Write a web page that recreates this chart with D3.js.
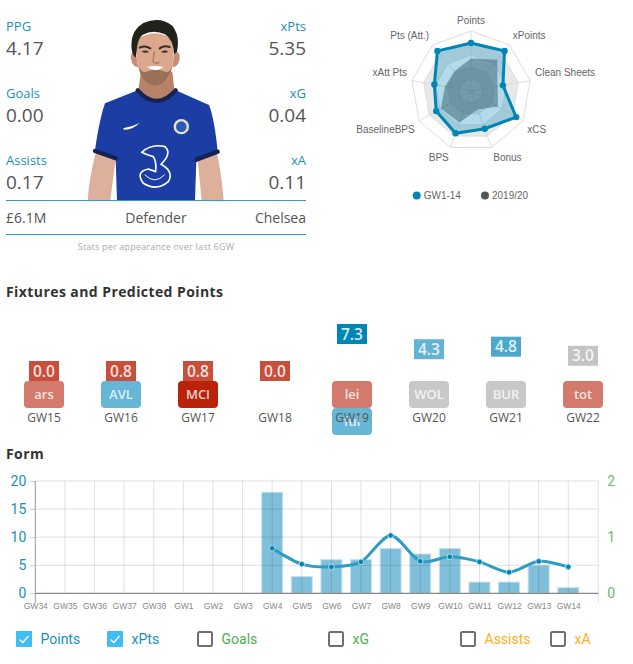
<!DOCTYPE html>
<html>
<head>
<meta charset="utf-8">
<script src="https://cdnjs.cloudflare.com/ajax/libs/d3/7.8.5/d3.min.js"></script>
<style>
  html, body { margin: 0; padding: 0; background: #fff; }
  svg { display: block; }
  text { font-family: "Open Sans", sans-serif; }
</style>
</head>
<body>
<div id="chart"></div>
<script>
const width = 633;
const height = 664;

// Stats block
const leftStats = [["PPG", "4.17"], ["Goals", "0.00"], ["Assists", "0.17"]];
const rightStats = [["xPts", "5.35"], ["xG", "0.04"], ["xA", "0.11"]];
const infoRow = ["£6.1M", "Defender", "Chelsea"];

// Radar
const radarAxes = ["Points", "xPoints", "Clean Sheets", "xCS", "Bonus", "BPS", "BaselineBPS", "xAtt Pts", "Pts (Att.)"];
const radarCurrent = [80, 87, 54, 87, 67, 75, 67, 62, 87];
const radarLast = [54, 68, 45, 52, 33, 56, 58, 44, 43];
const radarLevels = [100, 80, 60, 40, 20];

// Fixtures
const fixtureWeeks = ["GW15", "GW16", "GW17", "GW18", "GW19", "GW20", "GW21", "GW22"];
const fixturePoints = [0.0, 0.8, 0.8, 0.0, 7.3, 4.3, 4.8, 3.0];
const fixtureTeams = [["ars"], ["AVL"], ["MCI"], [], ["lei", "ful"], ["WOL"], ["BUR"], ["tot"]];

// Form chart
const formWeeks = ["GW34", "GW35", "GW36", "GW37", "GW38", "GW1", "GW2", "GW3", "GW4", "GW5", "GW6", "GW7", "GW8", "GW9", "GW10", "GW11", "GW12", "GW13", "GW14"];
const formPoints = [null, null, null, null, null, null, null, null, 18, 3, 6, 6, 8, 7, 8, 2, 2, 5, 1];
const formXPts = [null, null, null, null, null, null, null, null, 8.0, 5.2, 4.7, 5.6, 10.3, 5.7, 6.5, 5.6, 3.75, 5.7, 4.7];
const leftTicks = [0, 5, 10, 15, 20];
const rightTicks = [0, 1, 2];

// Legend under the form chart
const legendNames = ["Points", "xPts", "Goals", "xG", "Assists", "xA"];
const legendOn = [true, true, false, false, false, false];

const blue = "#0086b4";
const labelBlue = "#1a8fbc";

const svg = d3.select("#chart")
  .append("svg")
  .attr("width", width)
  .attr("height", height);

// ---- Player picture, drawn in a 3x space and blurred a bit
svg.append("defs").append("filter")
  .attr("id", "soft")
  .append("feGaussianBlur")
  .attr("stdDeviation", 1.5);

const player = svg.append("g")
  .attr("transform", "translate(85,15) scale(0.3333)")
  .attr("filter", "url(#soft)");

function shape(d, fill, stroke, sw) {
  player.append("path")
    .attr("d", d)
    .attr("fill", fill || "none")
    .attr("stroke", stroke || "none")
    .attr("stroke-width", sw || 0)
    .attr("stroke-linecap", "round")
    .attr("stroke-linejoin", "round");
}

const skin = "#dba88e";
// arms and neck
shape("M32,415 L92,432 L76,556 L8,556 Q14,480 32,415 Z", "#dcb09a");
shape("M338,435 L396,415 Q410,480 416,556 L350,556 Z", "#dcb09a");
shape("M168,170 L262,170 L270,240 L215,272 L158,240 Z", "#b98168");
// ears
shape("M152,112 Q136,106 138,132 Q144,158 160,156 Z", "#c58d72");
shape("M268,112 Q286,106 284,132 Q278,158 262,156 Z", "#c58d72");
// face
shape("M154,75 Q210,35 266,75 Q270,150 250,190 Q212,222 176,190 Q150,150 154,75 Z", skin);
// stubble
shape("M160,150 Q166,205 210,212 Q254,205 262,150 Q256,176 240,170 Q212,158 184,170 Q168,176 160,150 Z", "#9a7058");
// hair
shape("M140,102 Q134,48 175,24 Q225,2 262,32 Q286,62 276,110 L268,118 Q264,72 240,58 Q205,42 172,60 Q158,72 156,100 L152,128 Q142,120 140,102 Z", "#23201f");
// brows, eyes, nose, mouth
shape("M164,98 Q180,90 196,100", null, "#3d2b22", 6);
shape("M224,100 Q238,90 254,96", null, "#3d2b22", 6);
shape("M170,110 Q181,103 192,111 Q181,116 170,110 Z", "#3a2e2a");
shape("M228,111 Q239,103 250,110 Q239,116 228,111 Z", "#3a2e2a");
shape("M208,110 L204,140 Q210,148 222,142", null, "#b0785e", 4);
shape("M186,156 Q210,150 236,156 Q212,176 186,156 Z", "#fff");
// jersey
shape("M158,226 L60,265 Q44,310 30,405 L92,432 L96,556 L330,556 L334,436 L398,408 Q388,310 372,270 L272,226 Q215,285 158,226 Z", "#1b3ea3");
shape("M158,226 Q215,290 272,226", null, "#16234f", 13);
shape("M30,408 L92,430", null, "#16234f", 13);
shape("M334,434 L398,410", null, "#16234f", 13);
shape("M114,340 Q140,336 164,324 Q140,346 118,344 Z", "#fff");
player.append("circle").attr("cx", 289).attr("cy", 335).attr("r", 23).attr("fill", "#e8e2d0");
player.append("circle").attr("cx", 289).attr("cy", 335).attr("r", 16).attr("fill", "#2a5ab8");
shape("M170,412 Q200,385 240,395 Q262,415 228,448 Q268,470 250,500 Q215,530 175,505 Q150,470 190,462 L212,470 Q215,440 205,425 Q185,420 170,412 Z", null, "#fff", 5);
shape("M180,480 Q210,510 238,480", null, "#fff", 3);

// ---- Stats
function statColumn(rows, x, anchor) {
  rows.forEach((row, i) => {
    svg.append("text")
      .attr("x", x)
      .attr("y", 31 + i * 67)
      .attr("text-anchor", anchor)
      .attr("font-size", 13)
      .attr("fill", labelBlue)
      .text(row[0]);
    svg.append("text")
      .attr("x", x)
      .attr("y", 55 + i * 67)
      .attr("text-anchor", anchor)
      .attr("font-size", 19)
      .attr("fill", "#555")
      .text(row[1]);
  });
}
statColumn(leftStats, 6, "start");
statColumn(rightStats, 306, "end");

[200.5, 234.5].forEach(y => {
  svg.append("line")
    .attr("x1", 6).attr("x2", 306)
    .attr("y1", y).attr("y2", y)
    .attr("stroke", "#2aa0c8");
});

infoRow.forEach((t, i) => {
  svg.append("text")
    .attr("x", [6, 156, 306][i])
    .attr("y", 223)
    .attr("text-anchor", ["start", "middle", "end"][i])
    .attr("font-size", 14)
    .attr("fill", "#555")
    .text(t);
});

svg.append("text")
  .attr("x", 156)
  .attr("y", 250)
  .attr("text-anchor", "middle")
  .attr("font-size", 9)
  .attr("letter-spacing", 0.2)
  .attr("fill", "#aaa")
  .text("Stats per appearance over last 6GW");

// ---- Radar
const radarX = 471;
const radarY = 91;
const radar = d3.scaleLinear().domain([0, 100]).range([0, 60]);
const angle = i => i * 2 * Math.PI / radarAxes.length;
const radarPoint = (v, i) => [radarX + radar(v) * Math.sin(angle(i)), radarY - radar(v) * Math.cos(angle(i))];
const radarPath = vals => d3.line()(vals.map(radarPoint)) + "Z";
const ringPath = v => radarPath(radarAxes.map(() => v));

radarLevels.forEach((v, i) => {
  svg.append("path")
    .attr("d", ringPath(v))
    .attr("fill", i % 2 ? "#e8e8e8" : "#fff")
    .attr("stroke", "#ddd");
});
radarAxes.forEach((a, i) => {
  const [x2, y2] = radarPoint(100, i);
  svg.append("line")
    .attr("x1", radarX).attr("y1", radarY)
    .attr("x2", x2).attr("y2", y2)
    .attr("stroke", "#ddd");
});

svg.append("path")
  .attr("d", radarPath(radarLast))
  .attr("fill", "#555")
  .attr("fill-opacity", 0.52);
svg.append("path")
  .attr("d", radarPath(radarCurrent))
  .attr("fill", blue)
  .attr("fill-opacity", 0.3)
  .attr("stroke", blue)
  .attr("stroke-width", 3);
svg.selectAll("circle.rdot")
  .data(radarCurrent)
  .enter()
  .append("circle")
  .attr("class", "rdot")
  .attr("cx", (d, i) => radarPoint(d, i)[0])
  .attr("cy", (d, i) => radarPoint(d, i)[1])
  .attr("r", 3.2)
  .attr("fill", blue);

// labels sit a little off the plain radial spot
const labelNudge = [-1, -2, -6, 3, 1, 1, 3, -6, -2];
radarAxes.forEach((a, i) => {
  const s = Math.sin(angle(i));
  svg.append("text")
    .attr("x", radarX + 65 * s)
    .attr("y", radarY - 70 * Math.cos(angle(i)) + labelNudge[i])
    .attr("dy", "0.35em")
    .attr("text-anchor", i === 0 ? "middle" : s > 0 ? "start" : "end")
    .style("font-family", "'Liberation Sans', Arial, sans-serif")
    .attr("font-size", 10)
    .attr("fill", "#666")
    .text(a);
});

[["GW1-14", blue, 416.7], ["2019/20", "#555", 485]].forEach(([t, c, x]) => {
  svg.append("circle").attr("cx", x).attr("cy", 195.5).attr("r", 4).attr("fill", c);
  svg.append("text")
    .attr("x", x + 7)
    .attr("y", 195.5)
    .attr("dy", "0.35em")
    .style("font-family", "'Liberation Sans', Arial, sans-serif")
    .attr("font-size", 10)
    .attr("fill", "#666")
    .text(t);
});

// ---- Section titles
[["Fixtures and Predicted Points", 297], ["Form", 459]].forEach(([t, y]) => {
  svg.append("text")
    .attr("x", 6)
    .attr("y", y)
    .attr("font-size", 14)
    .attr("font-weight", 700)
    .attr("letter-spacing", 0.42)
    .attr("fill", "#333")
    .text(t);
});

// ---- Fixtures
const fixX = d3.scalePoint().domain(fixtureWeeks).range([44, 583]);
const fixY = d3.scaleLinear().domain([0, 7.3]).range([381, 344]);
const fixColor = v => v < 1 ? "#c84f3c" : v < 3.5 ? "#c4c4c4" : v < 4.5 ? "#63b4d4" : v < 5.5 ? "#4da9cc" : blue;
const teamColor = { ars: "#d47a6c", AVL: "#66b6d6", MCI: "#b9230a", lei: "#d47a6c", ful: "#66b6d6", WOL: "#c8c8c8", BUR: "#c8c8c8", tot: "#d47a6c" };

fixtureWeeks.forEach((gw, i) => {
  const cx = fixX(gw);
  const v = fixturePoints[i];
  const bottom = v < 1 ? fixY(0) : fixY(v);

  svg.append("rect")
    .attr("x", cx - 15).attr("y", bottom - 20)
    .attr("width", 30).attr("height", 20)
    .attr("fill", fixColor(v));
  svg.append("text")
    .attr("x", cx).attr("y", bottom - 10)
    .attr("dy", "0.36em")
    .attr("text-anchor", "middle")
    .attr("font-size", 15.5)
    .attr("font-weight", 600)
    .attr("fill", "#fff")
    .attr("fill-opacity", 0.85)
    .text(v.toFixed(1));

  fixtureTeams[i].forEach((team, j) => {
    svg.append("rect")
      .attr("x", cx - 20).attr("y", 381 + j * 27)
      .attr("width", 40).attr("height", 27)
      .attr("rx", 4)
      .attr("fill", teamColor[team]);
    svg.append("text")
      .attr("x", cx).attr("y", 394.5 + j * 27)
      .attr("dy", "0.36em")
      .attr("text-anchor", "middle")
      .attr("font-size", 13)
      .attr("font-weight", 600)
      .attr("fill", "#fff")
      .attr("fill-opacity", 0.8)
      .text(team);
  });

  svg.append("text")
    .attr("x", cx).attr("y", 417.5)
    .attr("dy", "0.36em")
    .attr("text-anchor", "middle")
    .attr("font-size", 12)
    .attr("fill", "#555")
    .text(gw);
});

// ---- Form chart
const plot = { left: 35.3, right: 598.3, top: 481, bottom: 593.3 };
const x = d3.scalePoint().domain(formWeeks).range([plot.left, 568.3]);
const y = d3.scaleLinear().domain([0, 20]).range([plot.bottom, plot.top]);
const yRight = d3.scaleLinear().domain([0, 2]).range([plot.bottom, plot.top]);
const barW = 21;

// Bars
svg.selectAll("rect.bar")
  .data(formWeeks.map((w, i) => ({ w, v: formPoints[i] })).filter(d => d.v !== null))
  .enter()
  .append("rect")
  .attr("class", "bar")
  .attr("x", d => x(d.w) - barW / 2)
  .attr("y", d => y(d.v))
  .attr("width", barW)
  .attr("height", d => y(0) - y(d.v))
  .attr("fill", "#80bfda")
  .attr("stroke", "#c6e2ee");

// Grid
leftTicks.slice(1).forEach(t => {
  svg.append("line")
    .attr("x1", plot.left).attr("x2", plot.right)
    .attr("y1", y(t)).attr("y2", y(t))
    .attr("stroke", "#000").attr("stroke-opacity", 0.12);
});
formWeeks.slice(1).forEach(w => {
  svg.append("line")
    .attr("x1", x(w)).attr("x2", x(w))
    .attr("y1", plot.top).attr("y2", plot.bottom)
    .attr("stroke", "#000").attr("stroke-opacity", 0.12);
});
svg.append("line")
  .attr("x1", plot.right).attr("x2", plot.right)
  .attr("y1", plot.top).attr("y2", 603)
  .attr("stroke", "#000").attr("stroke-opacity", 0.12);

// Axes
const axisLeft = svg.append("g")
  .attr("transform", `translate(${plot.left},0)`)
  .call(d3.axisLeft(y).tickValues(leftTicks).tickSize(5).tickFormat(d3.format("d")));
axisLeft.select(".domain").remove();
axisLeft.selectAll("line").attr("stroke", "#ccc");
axisLeft.selectAll("text")
  .attr("x", -9)
  .style("font-family", "Roboto, sans-serif")
  .attr("font-size", 14)
  .attr("fill", labelBlue);
svg.append("line")
  .attr("x1", plot.left).attr("x2", plot.left)
  .attr("y1", plot.top).attr("y2", 603)
  .attr("stroke", "#999").attr("stroke-width", 1);

const axisRight = svg.append("g")
  .attr("transform", `translate(${plot.right},0)`)
  .call(d3.axisRight(yRight).tickValues(rightTicks).tickSize(0).tickFormat(d3.format("d")));
axisRight.select(".domain").remove();
axisRight.selectAll("text")
  .attr("x", 9)
  .style("font-family", "Roboto, sans-serif")
  .attr("font-size", 14)
  .attr("fill", "#66bb6a");

const axisBottom = svg.append("g")
  .attr("transform", `translate(0,${plot.bottom})`)
  .call(d3.axisBottom(x).tickSize(0).tickPadding(10));
axisBottom.select(".domain").remove();
axisBottom.selectAll("text")
  .style("font-family", "'Liberation Sans', Arial, sans-serif")
  .attr("font-size", 8.5)
  .attr("fill", "#888");
svg.append("line")
  .attr("x1", plot.left).attr("x2", plot.right)
  .attr("y1", plot.bottom).attr("y2", plot.bottom)
  .attr("stroke", "#888").attr("stroke-width", 1.2);

// xPts line
const linePts = formWeeks.map((w, i) => ({ w, v: formXPts[i] })).filter(d => d.v !== null);
svg.append("path")
  .datum(linePts)
  .attr("d", d3.line().x(d => x(d.w)).y(d => y(d.v)).curve(d3.curveCardinal.tension(0.15)))
  .attr("fill", "none")
  .attr("stroke", "#2e9cc4")
  .attr("stroke-width", 3);
svg.selectAll("circle.pt")
  .data(linePts)
  .enter()
  .append("circle")
  .attr("class", "pt")
  .attr("cx", d => x(d.w))
  .attr("cy", d => y(d.v))
  .attr("r", 2.8)
  .attr("fill", blue)
  .attr("stroke", "#d4eaf3")
  .attr("stroke-width", 0.8);

// ---- Legend
const legendX = [16, 107, 197, 328, 460, 550];
const legendColor = [labelBlue, labelBlue, "#4caf50", "#4caf50", "#ffb020", "#ffb020"];
legendNames.forEach((name, i) => {
  const g = svg.append("g").attr("transform", `translate(${legendX[i]},631)`);
  if (legendOn[i]) {
    g.append("rect")
      .attr("width", 16).attr("height", 16).attr("rx", 1)
      .attr("fill", "#40bdf5");
    g.append("path")
      .attr("d", "M3.5,8.5 L6.8,11.5 L12.5,5")
      .attr("fill", "none")
      .attr("stroke", "#fff")
      .attr("stroke-width", 1.3);
  } else {
    g.append("rect")
      .attr("x", 1).attr("y", 1)
      .attr("width", 14).attr("height", 14).attr("rx", 1.5)
      .attr("fill", "#fff")
      .attr("stroke", "#707070")
      .attr("stroke-width", 2);
  }
  g.append("text")
    .attr("x", 24.5)
    .attr("y", 7.5)
    .attr("dy", "0.36em")
    .style("font-family", "Roboto, sans-serif")
    .attr("font-size", 14)
    .attr("fill", legendColor[i])
    .text(name);
});
</script>
</body>
</html>
